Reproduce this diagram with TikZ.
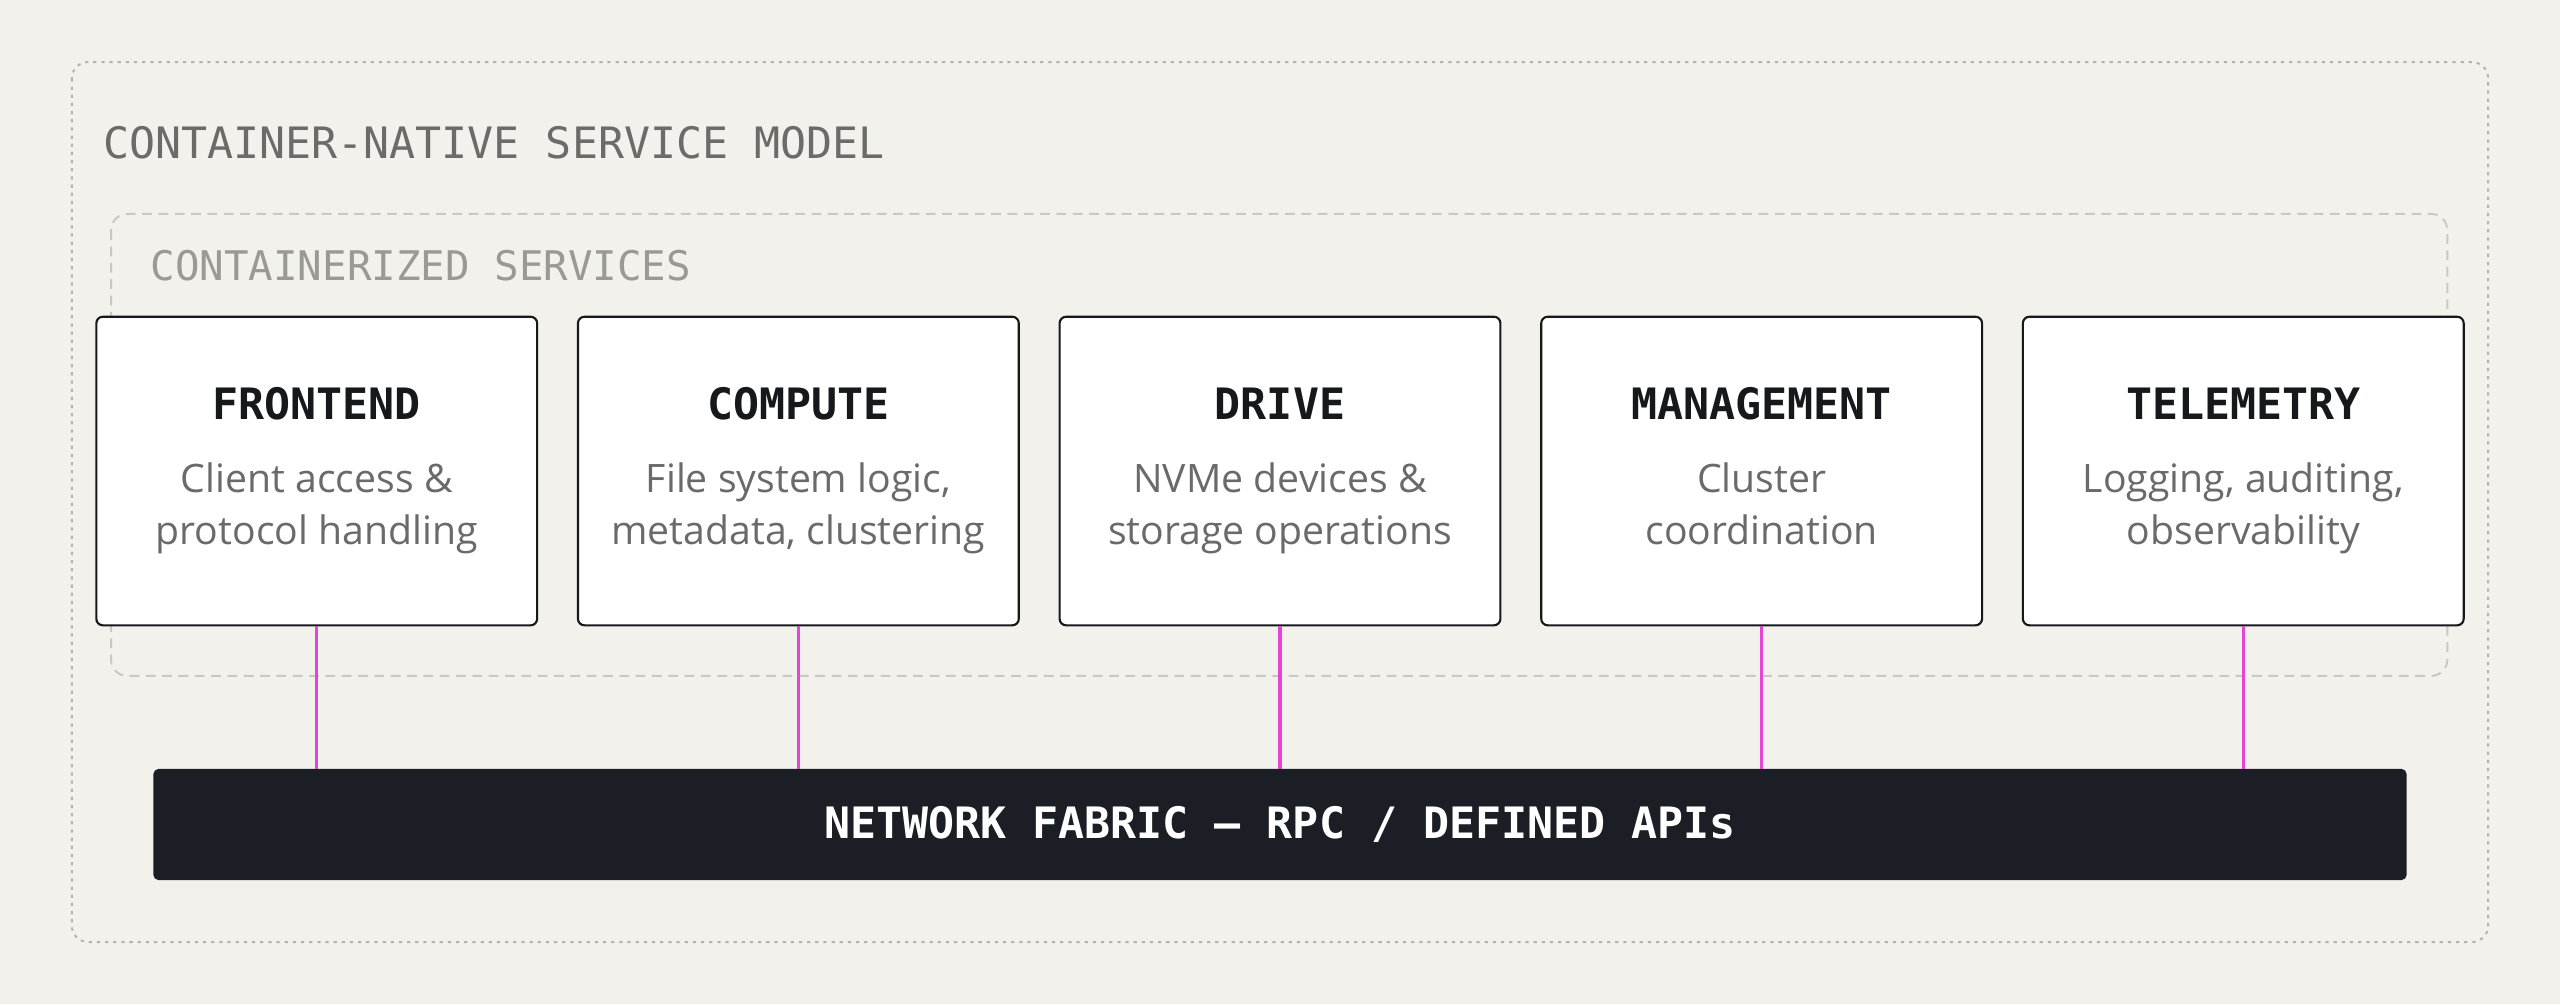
\documentclass[tikz,border=0pt]{standalone}
\usepackage{fontspec}
\setmainfont{Open Sans}
\setmonofont{DejaVu Sans Mono}
\definecolor{bg}{HTML}{F2F1EC}
\definecolor{outerc}{HTML}{B4B4AE}
\definecolor{innerc}{HTML}{C9C9C3}
\definecolor{titlec}{HTML}{6B6B68}
\definecolor{subc}{HTML}{9A9A94}
\definecolor{ink}{HTML}{16181C}
\definecolor{desc}{HTML}{6A6A6A}
\definecolor{bar}{HTML}{1B1E24}
\definecolor{pink}{HTML}{E545D6}
\newcommand\svcbox[5]{%
  \node[svc] (#1) at (#2,288.5) {};
  \node[ttl,anchor=base] (#1t) at (#2,257) {#3};
  \node[dsc,anchor=north] (#1d) at (#2,280) {#4\\#5};
  \draw[link] (#1.south) -- (#1.south |- net.north);
}
\begin{document}
\begin{tikzpicture}[x=1pt,y=-1pt,
  svc/.style={draw=ink,line width=1.3pt,fill=white,rounded corners=4pt,minimum width=270pt,minimum height=189pt,inner sep=0pt},
  ttl/.style={font=\ttfamily\bfseries\fontsize{26.5}{30}\selectfont,text=ink},
  dsc/.style={font=\fontsize{24}{32}\selectfont,text=desc,align=center},
  link/.style={draw=pink,line width=2pt}]
\fill[bg] (0,0) rectangle (1568,615);
\useasboundingbox (0,0) rectangle (1568,615);
\draw[outerc,line width=1.2pt,dash pattern=on 2pt off 3pt,rounded corners=10pt] (44,38) rectangle (1524,577);
\node[anchor=base west,font=\ttfamily\fontsize{26.5}{30}\selectfont,text=titlec,inner sep=0pt] (t1) at (63,97) {CONTAINER-NATIVE SERVICE MODEL};
\draw[innerc,line width=1.2pt,dash pattern=on 6pt off 4pt,rounded corners=10pt] (68,131) rectangle (1499,414);
\node[anchor=base west,font=\ttfamily\fontsize{25}{30}\selectfont,text=subc,inner sep=0pt] (t2) at (92,172) {CONTAINERIZED SERVICES};
\node[fill=bar,rounded corners=3pt,minimum width=1380pt,minimum height=68pt,font=\ttfamily\bfseries\fontsize{26.5}{30}\selectfont,text=white] (net) at (784,505) {NETWORK FABRIC — RPC / DEFINED APIs};
\svcbox{fe}{194}{FRONTEND}{Client access \&}{protocol handling}
\svcbox{co}{489}{COMPUTE}{File system logic,}{metadata, clustering}
\svcbox{dr}{784}{DRIVE}{NVMe devices \&}{storage operations}
\svcbox{mg}{1079}{MANAGEMENT}{Cluster}{coordination}
\svcbox{te}{1374}{TELEMETRY}{Logging, auditing,}{observability}
\end{tikzpicture}
\end{document}
